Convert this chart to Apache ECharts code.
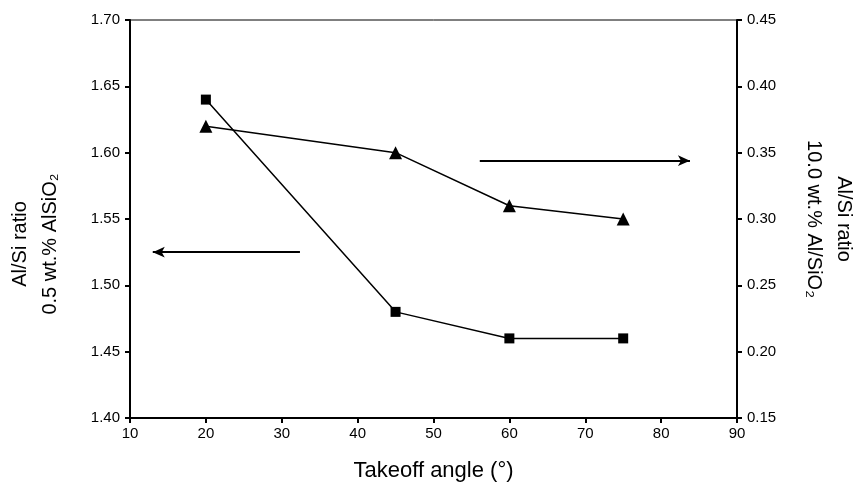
<!DOCTYPE html>
<html>
<head>
    <meta charset="utf-8">
    <script src="https://cdn.jsdelivr.net/npm/echarts@6/dist/echarts.min.js"></script>
</head>
<body style="margin:0">
<div id="main" style="width: 858px;height:488px"></div>

<script type="text/javascript">
    // takeoff angles and the two measured ratios
    var angles = [20, 45, 60, 75];
    var ratioLow = [1.64, 1.48, 1.46, 1.46];    // 0.5 wt.% AlSiO2, left axis
    var ratioHigh = [0.37, 0.35, 0.31, 0.30];   // 10.0 wt.% Al/SiO2, right axis

    // arrows pointing to the matching axis (data coords)
    var arrowLeft = [[32.4, 1.525], [13.0, 1.525]];
    var arrowRight = [[56.1, 0.344], [83.8, 0.344]];

    var font = '"Liberation Sans", Arial, sans-serif';

    function pairs(xs, ys) {
        var out = [];
        for (var i = 0; i < xs.length; i++) out.push([xs[i], ys[i]]);
        return out;
    }

    var chartDom = document.getElementById('main');
    var myChart = echarts.init(chartDom);
    var option;

    var axisLine = { show: true, lineStyle: { color: '#000', width: 2 } };
    var axisTick = { show: true, inside: false, length: 5, lineStyle: { color: '#000', width: 2 } };
    var twoDec = function (v) { return v.toFixed(2); };

    option = {
        animation: false,
        backgroundColor: '#fff',
        grid: {
            left: 130, right: 121, top: 20, bottom: 70,
            outerBoundsMode: 'none',
            containLabel: false,
            show: true, borderColor: '#000', borderWidth: 1
        },
        xAxis: {
            type: 'value',
            min: 10, max: 90, interval: 10,
            name: 'Takeoff angle (°)',
            nameLocation: 'middle',
            nameGap: 42,
            nameTextStyle: { color: '#000', fontSize: 22, fontFamily: font },
            axisLine: axisLine,
            axisTick: axisTick,
            axisLabel: { color: '#000', fontSize: 15, fontFamily: font, margin: 8 },
            splitLine: { show: false }
        },
        yAxis: [
            {
                type: 'value',
                min: 1.40, max: 1.70, interval: 0.05,
                position: 'left',
                name: 'Al/Si ratio\n0.5 wt.% AlSiO₂',
                nameLocation: 'middle',
                nameRotate: 90,
                nameGap: 65,
                nameTextStyle: { color: '#000', fontSize: 20, fontFamily: font, lineHeight: 30, padding: [0, 50, 0, 0] },
                axisLine: axisLine,
                axisTick: axisTick,
                axisLabel: { color: '#000', fontSize: 15, fontFamily: font, margin: 10, formatter: twoDec },
                splitLine: { show: false }
            },
            {
                type: 'value',
                min: 0.15, max: 0.45, interval: 0.05,
                position: 'right',
                name: 'Al/Si ratio\n10.0 wt.% Al/SiO₂',
                nameLocation: 'middle',
                nameRotate: -90,
                nameGap: 62,
                nameTextStyle: { color: '#000', fontSize: 20, fontFamily: font, lineHeight: 30 },
                axisLine: axisLine,
                axisTick: axisTick,
                axisLabel: { color: '#000', fontSize: 15, fontFamily: font, margin: 10, formatter: twoDec },
                splitLine: { show: false }
            }
        ],
        series: [
            {
                name: '0.5 wt.%',
                type: 'line',
                yAxisIndex: 0,
                data: pairs(angles, ratioLow),
                symbol: 'rect',
                symbolSize: 10,
                itemStyle: { color: '#000' },
                lineStyle: { color: '#000', width: 1.5 },
                markLine: {
                    silent: true,
                    symbol: ['none', 'arrow'],
                    symbolSize: [8, 12],
                    label: { show: false },
                    lineStyle: { color: '#000', width: 2, type: 'solid' },
                    data: [[{ coord: arrowLeft[0] }, { coord: arrowLeft[1] }]]
                }
            },
            {
                name: '10.0 wt.%',
                type: 'line',
                yAxisIndex: 1,
                data: pairs(angles, ratioHigh),
                symbol: 'triangle',
                symbolSize: 13,
                itemStyle: { color: '#000' },
                lineStyle: { color: '#000', width: 1.5 },
                markLine: {
                    silent: true,
                    symbol: ['none', 'arrow'],
                    symbolSize: [8, 12],
                    label: { show: false },
                    lineStyle: { color: '#000', width: 2, type: 'solid' },
                    data: [[{ coord: arrowRight[0] }, { coord: arrowRight[1] }]]
                }
            }
        ]
    };

    option && myChart.setOption(option);
</script>
</body>
</html>
